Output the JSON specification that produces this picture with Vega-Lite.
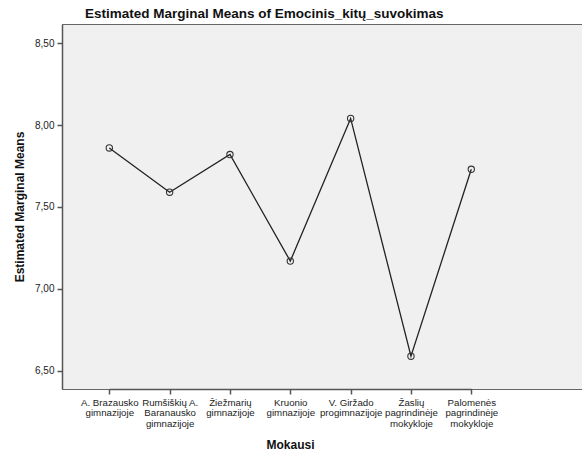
{
  "$schema": "https://vega.github.io/schema/vega-lite/v6.json",
  "autosize": {"type": "none"},
  "width": 520,
  "height": 365,
  "padding": {"left": 62, "top": 24, "right": 0, "bottom": 66},
  "background": "white",
  "title": {
    "text": "Estimated Marginal Means of Emocinis_kitų_suvokimas",
    "font": "Liberation Sans",
    "fontSize": 13.5,
    "fontWeight": "bold",
    "color": "#111111",
    "anchor": "start",
    "frame": "group",
    "dx": 23,
    "baseline": "alphabetic",
    "offset": -7
  },
  "config": {
    "view": {"fill": "#f0f0f0", "stroke": "#666666", "strokeWidth": 1},
    "axis": {
      "labelFont": "Liberation Sans",
      "titleFont": "Liberation Sans",
      "labelColor": "#222222",
      "titleColor": "#111111",
      "domainColor": "#555555",
      "tickColor": "#555555",
      "domainWidth": 1.5,
      "tickWidth": 1.5,
      "grid": false
    }
  },
  "data": {
    "values": [
      {"Mokausi": "A. Brazausko\ngimnazijoje", "order": 1, "mean": 7.86},
      {"Mokausi": "Rumšiškių A.\nBaranausko\ngimnazijoje", "order": 2, "mean": 7.59},
      {"Mokausi": "Žiežmarių\ngimnazijoje", "order": 3, "mean": 7.82},
      {"Mokausi": "Kruonio\ngimnazijoje", "order": 4, "mean": 7.17},
      {"Mokausi": "V. Giržado\nprogimnazijoje", "order": 5, "mean": 8.04},
      {"Mokausi": "Žaslių\npagrindinėje\nmokykloje", "order": 6, "mean": 6.59},
      {"Mokausi": "Palomenės\npagrindinėje\nmokykloje", "order": 7, "mean": 7.73}
    ]
  },
  "encoding": {
    "x": {
      "field": "Mokausi",
      "type": "ordinal",
      "sort": {"field": "order"},
      "scale": {"type": "point", "padding": 0, "range": [47.3, 409.3]},
      "axis": {
        "title": "Mokausi",
        "titleFontSize": 12,
        "titleFontWeight": "bold",
        "titleX": 228,
        "titleY": 59,
        "titleAlign": "center",
        "titleBaseline": "alphabetic",
        "labelAngle": 0,
        "labelFontSize": 9.7,
        "labelLineHeight": 10.5,
        "labelPadding": 3,
        "tickSize": 5,
        "labelExpr": "split(datum.label, '\\n')"
      }
    },
    "y": {
      "field": "mean",
      "type": "quantitative",
      "scale": {"domain": [6.39, 8.616], "zero": false, "nice": false},
      "axis": {
        "title": "Estimated Marginal Means",
        "titleFontSize": 12,
        "titleFontWeight": "bold",
        "titleX": -43,
        "titleY": 182.5,
        "titleAlign": "center",
        "titleBaseline": "middle",
        "values": [6.5, 7, 7.5, 8, 8.5],
        "labelExpr": "replace(format(datum.value, '.2f'), '.', ',')",
        "labelFontSize": 10,
        "labelPadding": 3,
        "tickSize": 5
      }
    }
  },
  "layer": [
    {"mark": {"type": "line", "color": "#222222", "strokeWidth": 1.3}},
    {"mark": {"type": "point", "shape": "circle", "size": 40, "filled": false, "stroke": "#333333", "strokeWidth": 1.1, "opacity": 1}}
  ]
}
